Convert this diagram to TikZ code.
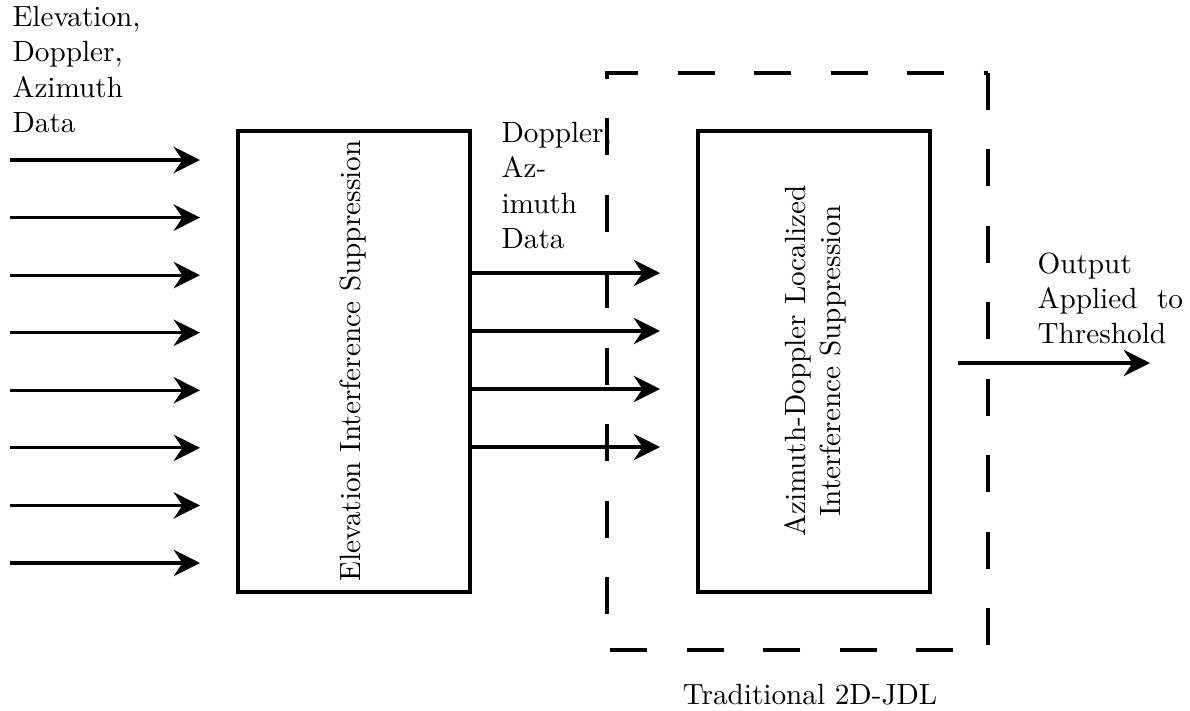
\documentclass[tikz,border=0pt]{standalone}
\usetikzlibrary{arrows.meta}
\begin{document}
\begin{tikzpicture}[x=0.342pt,y=-0.342pt,
  blk/.style={draw,line width=1.1pt,inner sep=0pt},
  arr/.style={line width=1.1pt,-{Stealth[length=9pt,width=9pt,inset=3pt]}},
  lbl/.style={align=left,inner sep=0pt,anchor=north west},
  dbox/.style={line width=1.1pt,dash pattern=on 12.65pt off 13.5pt}]
\useasboundingbox (0,0) rectangle (1190,710);
% boxes
\node[blk,minimum width=232*0.342pt,minimum height=461*0.342pt] (eis) at (354,361.5) {};
\node[blk,minimum width=232*0.342pt,minimum height=461*0.342pt] (adl) at (814,361.5) {};
\node[rotate=90,inner sep=0pt] (eist) at (353,361) {Elevation Interference Suppression};
\node[rotate=90,inner sep=0pt,align=center] (adlt) at (815,361) {Azimuth-Doppler Localized\\Interference Suppression};
% dashed box (drawn from top-right corner, down, left, up, right)
\coordinate (d1) at (988,73);
\coordinate (d2) at (607,650);
\draw[dbox] (d1) -- (d1 |- d2) -- (d2) -- (d2 |- d1) -- cycle;
% input arrows
\foreach \i in {0,...,7}{
  \coordinate (a\i) at (10,{160+\i*57.57});
  \coordinate (b\i) at (200,{160+\i*57.57});
  \draw[arr] (a\i) -- (b\i);
}
% middle arrows
\foreach \i in {0,...,3}{
  \coordinate (c\i) at (470,{273+\i*58});
  \coordinate (e\i) at (660,{273+\i*58});
  \draw[arr] (c\i) -- (e\i);
}
% output arrow
\coordinate (o1) at (958,363);
\coordinate (o2) at (1150,363);
\draw[arr] (o1) -- (o2);
% labels
\node[lbl] (inlbl) at (12,6) {Elevation,\\Doppler,\\Azimuth\\Data};
\node[lbl] (midlbl) at (501,122) {Doppler,\\Az-\\imuth\\Data};
\node[lbl] (outlbl) at (1037,252) {Output\\Applied~ to\\Threshold};
\node[inner sep=0pt] (trad) at (810,695) {Traditional 2D-JDL};
\end{tikzpicture}
\end{document}
